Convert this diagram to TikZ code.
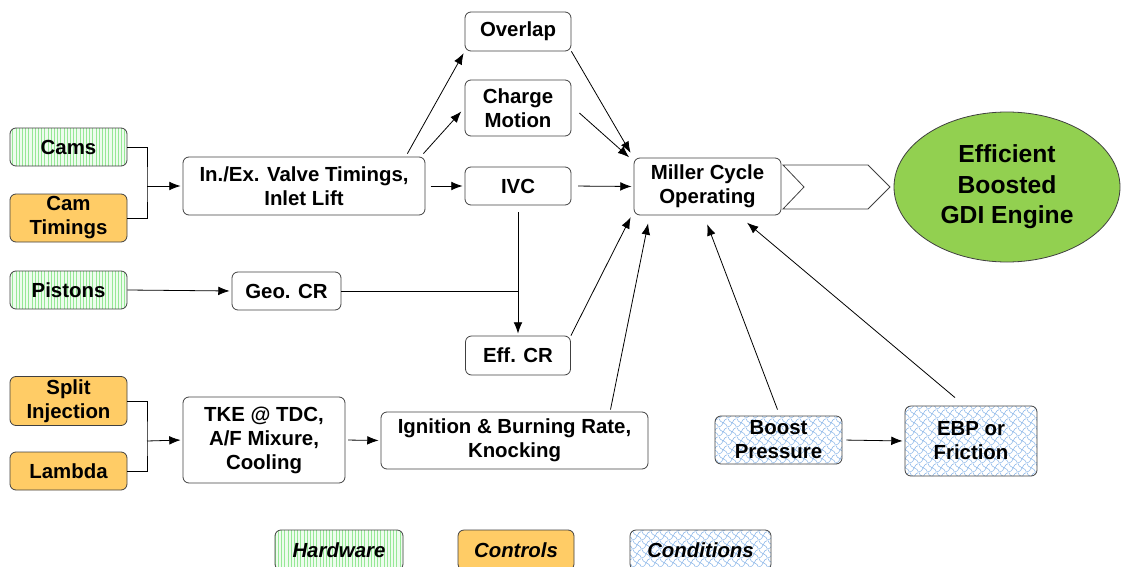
\documentclass[tikz,border=0pt]{standalone}
\usepackage{fontspec}
\setmainfont{Liberation Sans}
\usetikzlibrary{arrows.meta,patterns.meta,shapes.geometric,positioning,calc}
\definecolor{mygreen}{RGB}{146,208,80}
\definecolor{myorange}{RGB}{255,204,102}
\definecolor{myhwfill}{RGB}{238,252,238}
\definecolor{myhwline}{RGB}{150,232,150}
\definecolor{myblue}{RGB}{135,180,232}
\definecolor{myframe}{RGB}{64,64,64}

\tikzdeclarepattern{
  name=wavy,
  type=uncolored,
  bounding box={(0pt,0pt) and (6.5pt,6.5pt)},
  tile size={(6.5pt,6.5pt)},
  code={
    \draw[line width=0.4pt] (0pt,0pt) .. controls (3.25pt,0pt) and (3.25pt,6.5pt) .. (6.5pt,6.5pt);
    \draw[line width=0.4pt] (0pt,6.5pt) .. controls (0pt,3.25pt) and (6.5pt,3.25pt) .. (6.5pt,0pt);
  }
}

\tikzset{
  sz/.style 2 args={minimum width=#1*0.75pt, minimum height=#2*0.75pt},
  box/.style={draw=myframe, line width=0.6pt, rounded corners=4.5pt, align=center,
    inner sep=1pt, font=\fontsize{15.3}{18}\selectfont\bfseries},
  hwbox/.style={box, preaction={fill=myhwfill},
    pattern={Lines[angle=90,distance=2.4pt,line width=0.5pt]}, pattern color=myhwline},
  ctrlbox/.style={box, fill=myorange},
  condbox/.style={box, preaction={fill=white}, pattern=wavy, pattern color=myblue},
  arr/.style={-{Latex[length=8.5pt,width=6.5pt]}, line width=0.6pt, shorten >=1.5pt},
  link/.style={line width=0.6pt}
}

\begin{document}
\begin{tikzpicture}[x=0.75pt, y=-0.75pt]
    \useasboundingbox (0,0) rectangle (1124,567);

    % Inputs: hardware and controls
    \node[hwbox, sz={117}{38}] (cams) at (68.5,147) {Cams};
    \node[ctrlbox, sz={117}{48}] (camt) at (68.5,218) {Cam\\Timings};
    \node[hwbox, sz={117}{38}] (pistons) at (68.5,290) {Pistons};
    \node[ctrlbox, sz={117}{49}] (split) at (68.5,401) {Split\\Injection};
    \node[ctrlbox, sz={117}{38}] (lambda) at (68.5,471) {Lambda};

    % Intermediate effects
    \node[box, sz={242}{58}] (valve) at (304,186) {In./Ex. Valve Timings,\\Inlet Lift};
    \node[box, sz={106}{39}] (overlap) at (518,31.5) {Overlap};
    \node[box, sz={106}{56}] (charge) at (518,108) {Charge\\Motion};
    \node[box, sz={106}{38}] (ivc) at (518,186) {IVC};
    \node[box, sz={109}{38}] (geocr) at (286.5,291) {Geo. CR};
    \node[box, sz={105}{39}] (effcr) at (518,355.5) {Eff. CR};
    \node[box, sz={162}{86}] (tke) at (264,440) {TKE @ TDC,\\A/F Mixure,\\Cooling};
    \node[box, sz={267}{57}] (ignition) at (514.5,440.5) {Ignition \& Burning Rate,\\Knocking};

    % Conditions
    \node[condbox, sz={127}{48}] (boost) at (778.5,440) {Boost\\Pressure};
    \node[condbox, sz={132}{70}] (ebp) at (971,441) {EBP or\\Friction};

    % Miller cycle and result
    \node[box, sz={147}{57}] (miller) at (707.5,186.5) {Miller Cycle\\Operating};
    \draw[draw=myframe, line width=0.6pt, fill=white]
        (783,165) -- (868,165) -- (890,187) -- (868,209) -- (783,209) -- (804,187) -- cycle;
    \node[ellipse, draw=myframe, line width=0.6pt, fill=mygreen, sz={226}{150}, inner sep=0pt,
        align=center, font=\fontsize{18.5}{23}\selectfont\bfseries] (engine) at (1007,187)
        {Efficient\\Boosted\\GDI Engine};

    % Legend
    \node[hwbox, sz={128}{40}, font=\fontsize{15.3}{18}\selectfont\bfseries\itshape] (lhw) at (339,550) {Hardware};
    \node[ctrlbox, sz={116}{40}, font=\fontsize{15.3}{18}\selectfont\bfseries\itshape] (lctrl) at (516,550) {Controls};
    \node[condbox, sz={141}{40}, font=\fontsize{15.3}{18}\selectfont\bfseries\itshape] (lcond) at (700.5,550) {Conditions};

    % Brackets from inputs
    \coordinate (jA) at (147,186);
    \draw[link] (cams.east) -| (jA) |- (camt.east);
    \draw[arr] (jA) -- (valve.west);
    \coordinate (jB) at (147,441);
    \draw[link] (split.east) -| (jB) |- (lambda.east);
    \draw[arr] (jB) -- (tke.west);

    % Valve timing effects
    \draw[arr] ($(valve.north east)+(-18,-3)$) -- (overlap.south west);
    \draw[arr] ($(valve.north east)+(-2,-3)$) -- ($(charge.west)+(-2,2)$);
    \draw[arr, shorten <=4pt] (valve.east) -- (ivc.west);

    % Compression ratio
    \draw[arr] (pistons.east) -- (geocr.west);
    \draw[arr, shorten <=5pt] (ivc.south) -- (effcr.north);
    \draw[link] (geocr.east) -- (geocr.east -| ivc.south);

    % Into Miller cycle
    \draw[arr] (overlap.south east) -- ($(miller.north west)+(-2,-3)$);
    \draw[arr] ($(charge.east)+(8,5)$) -- ($(miller.north west)+(-3,1)$);
    \draw[arr, shorten <=5pt] (ivc.east) -- (miller.west);
    \draw[arr] (effcr.north east) -- ($(miller.south west)+(-2,0)$);
    \draw[arr] ($(ignition.north)+(96,-2)$) -- ($(miller.south)+(-59,6)$);
    \draw[arr] ($(boost.north)+(-1,-6)$) -- ($(miller.south)+(-1,7)$);
    \draw[arr] ($(ebp.north)+(-16,-8)$) -- ($(miller.south)+(38,6)$);

    % Combustion and conditions
    \draw[arr, shorten <=2pt] (tke.east) -- (ignition.west);
    \draw[arr, shorten <=3pt] (boost.east) -- (ebp.west);
\end{tikzpicture}
\end{document}
